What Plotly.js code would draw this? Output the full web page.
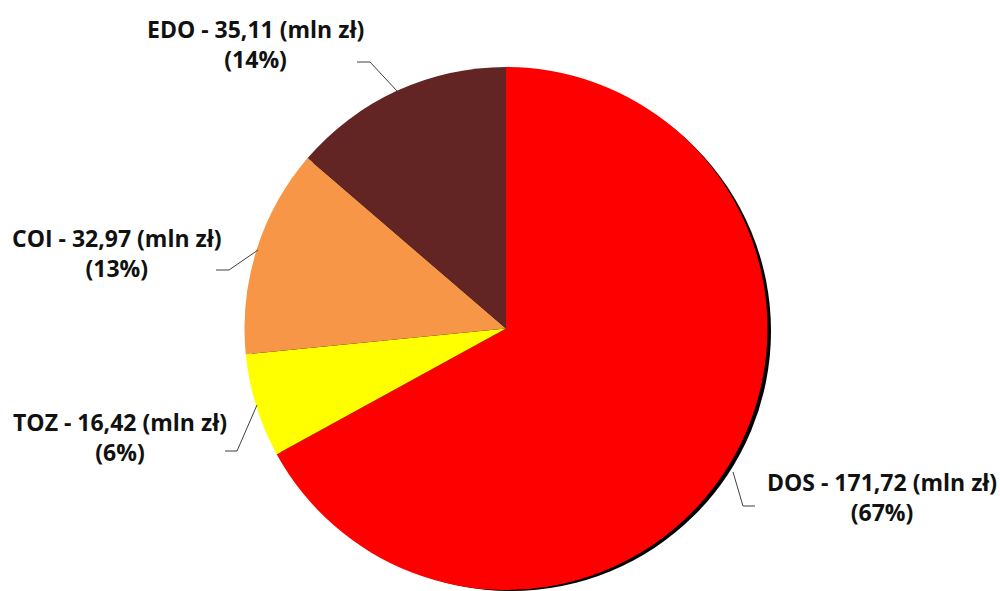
<!DOCTYPE html>
<html><head><meta charset="utf-8">
<script src="https://cdn.plot.ly/plotly-3.0.1.min.js"></script>
<style>body{margin:0;background:#fff}#chart{width:1000px;height:591px}</style>
</head><body><div id="chart"></div>
<script>
const categories = ["DOS", "TOZ", "COI", "EDO"];
const values = [171.72, 16.42, 32.97, 35.11];
const colors = ["#FF0000", "#FFFF00", "#F79646", "#632523"];
const unit = "(mln zł)";

const W = 1000, H = 591;
const cx = 506, cy = 328.5, R = 261.5;
const px = (x) => x / W;
const py = (y) => 1 - y / H;

const total = values.reduce((a, b) => a + b, 0);
const fmt = (v) => v.toFixed(2).replace('.', ',');
const labelText = categories.map((c, i) =>
  `${c} - ${fmt(values[i])} ${unit}<br>(${Math.round(values[i] / total * 100)}%)`);

const shadowOff = 5;
const shadow = {
  type: 'pie', values: [1], labels: ['shadow'], sort: false,
  marker: {colors: ['#000000'], line: {width: 0}},
  textinfo: 'none', hoverinfo: 'skip', showlegend: false,
  domain: {x: [px(cx - R + shadowOff), px(cx + R + shadowOff)], y: [py(cy + R + shadowOff - 1), py(cy - R + shadowOff - 1)]}
};
const pie = {
  type: 'pie', values: values, labels: categories, sort: false,
  direction: 'clockwise', rotation: 0,
  marker: {colors: colors, line: {width: 0}},
  textinfo: 'none', showlegend: false,
  domain: {x: [px(cx - R), px(cx + R)], y: [py(cy + R), py(cy - R)]}
};

// label positions (layout) and leader lines
const labelPos = [[882, 497], [120, 437], [117, 253], [255, 44]];
const leaders = [
  [[733, 472], [743, 506], [755, 506]],
  [[257, 405], [237, 451], [225, 451]],
  [[258, 250], [229, 270], [216, 270]],
  [[397, 91], [370, 62], [357, 62]]
];
const annotations = labelText.map((t, i) => ({
  xref: 'paper', yref: 'paper', x: px(labelPos[i][0]), y: py(labelPos[i][1]),
  xanchor: 'center', yanchor: 'middle', showarrow: false, text: '<b>' + t + '</b>',
  align: 'center', font: {family: 'Open Sans', size: 23, color: '#111111'}
}));
const shapes = leaders.map(pts => ({
  type: 'path', xref: 'paper', yref: 'paper',
  path: pts.map((p, j) => (j ? 'L' : 'M') + px(p[0]) + ',' + py(p[1])).join(' '),
  line: {color: '#404040', width: 1}
}));

Plotly.newPlot('chart', [shadow, pie], {
  width: W, height: H, margin: {l: 0, r: 0, t: 0, b: 0},
  paper_bgcolor: '#fff', showlegend: false,
  annotations: annotations, shapes: shapes
}, {displayModeBar: false, staticPlot: true});
</script></body></html>
